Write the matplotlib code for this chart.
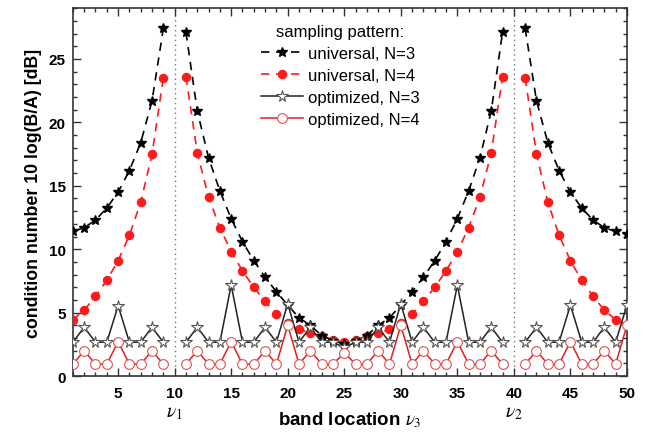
import matplotlib
matplotlib.use("Agg")
import matplotlib.pyplot as plt
import matplotlib.transforms as mtransforms
from matplotlib.ticker import MultipleLocator
import numpy as np

plt.rcParams["font.family"] = ["Liberation Sans", "DejaVu Sans"]
plt.rcParams["mathtext.fontset"] = "stix"

nan = np.nan
bands = np.arange(1, 51)

# universal sampling, N=3 (x = 1..50, no value at 10 and 40)
univ3 = [11.4, 11.7, 12.3, 13.25, 14.5, 16.2, 18.4, 21.7, 27.4, nan,
         27.1, 20.9, 17.2, 14.6, 12.4, 10.6, 9.1, 7.8, 6.65, 5.6,
         4.6, 4.0, 3.2, 2.8, 2.55, 2.8, 3.2, 4.0, 4.6, 5.6,
         6.65, 7.8, 9.1, 10.6, 12.4, 14.6, 17.2, 20.9, 27.1, nan,
         27.4, 21.7, 18.4, 16.2, 14.5, 13.25, 12.3, 11.7, 11.4, 11.2]

# universal sampling, N=4
univ4 = [4.45, 5.2, 6.3, 7.55, 9.1, 11.1, 13.7, 17.5, 23.5, nan,
         23.6, 17.6, 14.1, 11.7, 9.8, 8.3, 7.0, 5.9, 4.87, 4.2,
         3.68, 3.41, 3.15, 2.88, 2.72, 2.88, 3.15, 3.41, 3.68, 4.2,
         4.87, 5.9, 7.0, 8.3, 9.8, 11.7, 14.1, 17.6, 23.6, nan,
         23.5, 17.5, 13.7, 11.1, 9.1, 7.55, 6.3, 5.2, 4.45, 4.0]

# optimized sampling, N=3
opt3 = [2.67, 3.86, 2.67, 2.67, 5.55, 2.67, 2.67, 3.86, 2.67, nan,
        2.67, 3.86, 2.67, 2.67, 7.17, 2.67, 2.67, 3.86, 2.67, 5.7,
        2.67, 3.86, 2.67, 2.67, 2.27, 2.67, 2.67, 3.86, 2.67, 5.7,
        2.67, 3.86, 2.67, 2.67, 7.17, 2.67, 2.67, 3.86, 2.67, nan,
        2.67, 3.86, 2.67, 2.67, 5.6, 2.67, 2.67, 3.86, 2.67, 5.6]

# optimized sampling, N=4
opt4 = [0.95, 2.0, 0.95, 0.95, 2.72, 0.95, 0.95, 2.0, 0.95, nan,
        0.95, 2.0, 0.95, 0.95, 2.72, 0.95, 0.95, 2.0, 0.95, 4.0,
        0.95, 2.0, 0.95, 0.95, 1.83, 0.95, 0.95, 2.0, 0.95, 4.0,
        0.95, 2.0, 0.95, 0.95, 2.72, 0.95, 0.95, 2.0, 0.95, nan,
        0.95, 2.0, 0.95, 0.95, 2.72, 0.95, 0.95, 2.0, 0.95, 4.0]

fixed_bands = [10, 40]
fixed_labels = [r"$\nu_1$", r"$\nu_2$"]

red = "#ff1a1a"

fig = plt.figure(figsize=(6.45, 4.35), dpi=100)
ax = fig.add_axes([0.113, 0.133, 0.859, 0.846])

for b in fixed_bands:
    ax.axvline(b, color="#777777", linestyle=(0, (1, 2.5)), linewidth=1.0, zorder=1)

ax.plot(bands, univ3, linestyle=(0, (5, 4)), color="black", linewidth=1.2,
        marker="*", markersize=7.5, markerfacecolor="black", markeredgecolor="black",
        label="universal, N=3", zorder=4)
ax.plot(bands, univ4, linestyle=(0, (5, 4)), color=red, linewidth=1.2,
        marker="o", markersize=5.8, markerfacecolor=red, markeredgecolor=red,
        label="universal, N=4", zorder=3)
ax.plot(bands, opt3, linestyle="-", color="#222222", linewidth=1.1,
        marker="*", markersize=8.5, markerfacecolor="white", markeredgecolor="#555555",
        markeredgewidth=0.8, label="optimized, N=3", zorder=5)
ax.plot(bands, opt4, linestyle="-", color="#e02020", linewidth=1.1,
        marker="o", markersize=7, markerfacecolor="white", markeredgecolor="#e05050",
        markeredgewidth=0.8, label="optimized, N=4", zorder=5)

ax.set_xlim(1, 50)
ax.set_ylim(0, 29)
ax.xaxis.set_major_locator(MultipleLocator(5))
ax.xaxis.set_minor_locator(MultipleLocator(1))
ax.yaxis.set_major_locator(MultipleLocator(5))
ax.yaxis.set_minor_locator(MultipleLocator(1))
ax.set_xticks(range(5, 51, 5))
ax.tick_params(which="both", direction="in", top=True, right=True,
               labelsize=11, width=1.0, color="#333333")
ax.tick_params(which="major", length=6)
ax.tick_params(which="minor", length=3)
ax.tick_params(axis="x", pad=7)
ax.tick_params(axis="y", pad=5)
for lab in ax.get_xticklabels() + ax.get_yticklabels():
    lab.set_fontweight("bold")
for sp in ax.spines.values():
    sp.set_linewidth(1.2)
    sp.set_color("#333333")

ax.set_ylabel("condition number 10 log(B/A) [dB]", fontsize=12.8,
              fontweight="bold", labelpad=5)
ax.set_xlabel(r"band location $\nu_3$", fontsize=13.5, fontweight="bold", labelpad=7)

trans = mtransforms.blended_transform_factory(ax.transData, ax.transAxes)
for b, lab in zip(fixed_bands, fixed_labels):
    ax.text(b, -0.10, lab, transform=trans, ha="center", va="center", fontsize=14)

leg = ax.legend(title="sampling pattern:", loc="upper left",
                bbox_to_anchor=(0.322, 0.985), frameon=False, fontsize=12,
                title_fontsize=12, handlelength=2.5, handletextpad=0.3,
                labelspacing=0.42, numpoints=1, borderaxespad=0.2)

fig.savefig("out.png", dpi=100)
